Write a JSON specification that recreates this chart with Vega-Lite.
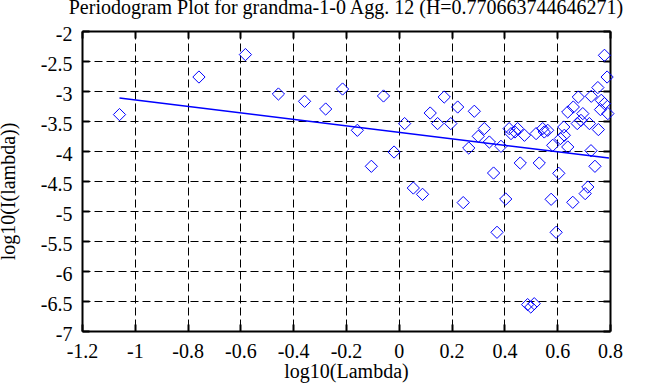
{
  "$schema": "https://vega.github.io/schema/vega-lite/v6.json",
  "width": 528,
  "height": 300,
  "autosize": {"type": "none"},
  "padding": {"left": 82, "top": 31, "right": 53, "bottom": 56},
  "background": "white",
  "config": {
    "font": "Liberation Serif",
    "view": {"stroke": null},
    "axis": {
      "domain": true, "domainColor": "black", "domainWidth": 2,
      "ticks": true, "tickColor": "black", "tickWidth": 2, "tickSize": -7,
      "labelFont": "Liberation Serif", "labelFontSize": 20, "labelColor": "black",
      "titleFont": "Liberation Serif", "titleFontSize": 20, "titleFontWeight": "normal", "titleColor": "black",
      "labelOverlap": false, "labelFlush": false, "labelBound": false,
      "gridColor": "black", "gridDash": [8, 4], "gridWidth": 1, "gridOpacity": 1
    }
  },
  "title": {
    "text": "Periodogram Plot for grandma-1-0 Agg. 12 (H=0.770663744646271)",
    "font": "Liberation Serif", "fontSize": 20, "fontWeight": "normal", "color": "black",
    "baseline": "alphabetic", "offset": 17, "dy": 27, "anchor": "middle", "frame": "group"
  },
  "layer": [
    {
      "data": {"values": [
        {"x": -1.058, "y": -3.393}, {"x": -0.757, "y": -2.767}, {"x": -0.581, "y": -2.393},
        {"x": -0.456, "y": -3.05}, {"x": -0.357, "y": -3.172}, {"x": -0.277, "y": -3.3},
        {"x": -0.213, "y": -2.967}, {"x": -0.157, "y": -3.655}, {"x": -0.104, "y": -4.255},
        {"x": -0.058, "y": -3.083}, {"x": -0.018, "y": -4.017}, {"x": 0.022, "y": -3.543},
        {"x": 0.055, "y": -4.617}, {"x": 0.09, "y": -4.722}, {"x": 0.119, "y": -3.367},
        {"x": 0.147, "y": -3.543}, {"x": 0.172, "y": -3.1}, {"x": 0.197, "y": -3.543},
        {"x": 0.223, "y": -3.267}, {"x": 0.244, "y": -4.86}, {"x": 0.265, "y": -3.95},
        {"x": 0.286, "y": -3.338}, {"x": 0.301, "y": -3.755}, {"x": 0.324, "y": -3.627},
        {"x": 0.343, "y": -3.85}, {"x": 0.359, "y": -4.367}, {"x": 0.372, "y": -5.355},
        {"x": 0.387, "y": -3.922}, {"x": 0.405, "y": -4.8}, {"x": 0.418, "y": -3.627},
        {"x": 0.425, "y": -3.71}, {"x": 0.44, "y": -3.683}, {"x": 0.45, "y": -3.627},
        {"x": 0.46, "y": -4.2}, {"x": 0.476, "y": -3.738}, {"x": 0.488, "y": -6.56},
        {"x": 0.5, "y": -6.6}, {"x": 0.513, "y": -6.545}, {"x": 0.52, "y": -3.71},
        {"x": 0.532, "y": -4.2}, {"x": 0.545, "y": -3.627}, {"x": 0.551, "y": -3.683},
        {"x": 0.564, "y": -3.655}, {"x": 0.577, "y": -4.805}, {"x": 0.583, "y": -3.905},
        {"x": 0.596, "y": -5.355}, {"x": 0.606, "y": -4.372}, {"x": 0.612, "y": -3.793},
        {"x": 0.625, "y": -3.6}, {"x": 0.627, "y": -3.738}, {"x": 0.64, "y": -3.933},
        {"x": 0.64, "y": -3.35}, {"x": 0.661, "y": -3.267}, {"x": 0.659, "y": -4.855},
        {"x": 0.676, "y": -3.543}, {"x": 0.68, "y": -3.1}, {"x": 0.69, "y": -3.49},
        {"x": 0.697, "y": -3.377}, {"x": 0.706, "y": -4.71}, {"x": 0.716, "y": -4.6},
        {"x": 0.722, "y": -3.543}, {"x": 0.728, "y": -3.995}, {"x": 0.729, "y": -3.088},
        {"x": 0.743, "y": -4.255}, {"x": 0.754, "y": -2.943}, {"x": 0.756, "y": -3.643},
        {"x": 0.764, "y": -3.31}, {"x": 0.767, "y": -3.155}, {"x": 0.779, "y": -3.21},
        {"x": 0.779, "y": -2.405}, {"x": 0.789, "y": -2.767}, {"x": 0.792, "y": -3.377}
      ]},
      "mark": {"type": "point", "shape": "diamond", "size": 150, "color": "#0000ff", "strokeWidth": 1, "filled": false, "opacity": 1},
      "encoding": {
        "x": {
          "field": "x", "type": "quantitative",
          "scale": {"domain": [-1.2, 0.8], "nice": false, "zero": false},
          "axis": {
            "orient": "bottom",
            "values": [-1.2, -1, -0.8, -0.6, -0.4, -0.2, 0, 0.2, 0.4, 0.6, 0.8],
            "labelExpr": "toString(datum.value)",
            "labelFont": "Liberation Serif", "labelFontSize": 20,
            "grid": true, "labelPadding": 17,
            "title": "log10(Lambda)", "titleX": 264, "titleY": 46, "titleBaseline": "alphabetic", "titleAlign": "center"
          }
        },
        "y": {
          "field": "y", "type": "quantitative",
          "scale": {"domain": [-7, -2], "nice": false, "zero": false},
          "axis": {
            "orient": "left",
            "values": [-7, -6.5, -6, -5.5, -5, -4.5, -4, -3.5, -3, -2.5, -2],
            "labelExpr": "toString(datum.value)",
            "labelFont": "Liberation Serif", "labelFontSize": 20,
            "grid": true, "labelPadding": 17, "labelBaseline": "middle", "labelOffset": 3,
            "title": "log10(I(lambda))", "titleAngle": -90, "titleX": -68, "titleY": 160,
            "titleBaseline": "alphabetic", "titleAlign": "center"
          }
        }
      }
    },
    {
      "data": {"values": [{"x": -1.058, "y": -3.117}, {"x": 0.796, "y": -4.117}]},
      "mark": {"type": "line", "color": "#0000ff", "strokeWidth": 1.5},
      "encoding": {
        "x": {
          "field": "x", "type": "quantitative",
          "axis": {"orient": "top", "labels": false, "title": null, "grid": false,
                   "values": [-1.2, -1, -0.8, -0.6, -0.4, -0.2, 0, 0.2, 0.4, 0.6, 0.8]}
        },
        "y": {
          "field": "y", "type": "quantitative",
          "axis": {"orient": "right", "labels": false, "title": null, "grid": false,
                   "values": [-7, -6.5, -6, -5.5, -5, -4.5, -4, -3.5, -3, -2.5, -2]}
        }
      }
    }
  ],
  "resolve": {"axis": {"x": "independent", "y": "independent"}}
}
